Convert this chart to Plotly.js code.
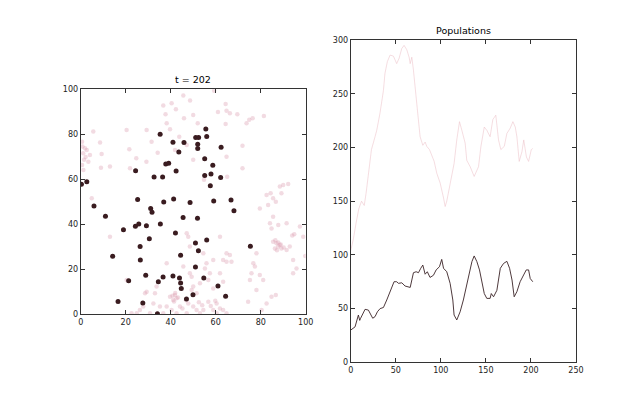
<!DOCTYPE html>
<html><head><meta charset="utf-8">
<script src="https://cdn.plot.ly/plotly-3.0.1.min.js"></script>
<style>html,body{margin:0;padding:0;background:#fff}#chart{width:640px;height:403px}</style>
</head><body><div id="chart"></div>
<script>
// Left panel: agent positions at t = 202
const predX = [35.3,55.6,41,45.9,51.1,52.4,56,52,52,62.4,43.6,55.1,37.8,39.1,24.4,42.4,58.7,32.6,36.4,55.1,57.9,62.2,57.6,0.3,2.7,5.9,25.3,36.9,41.3,48.6,59.1,66.8,68.1,11,31.1,31.7,45.5,51.9,19,24.3,25.8,29.2,35.4,42.1,51,56,30.5,26.4,52.3,14.2,44.4,26.5,75.4,51,54.7,28.9,36.6,41,43.9,44.4,44.7,21.3,34.5,61,49.9,47,64.4,16.6,27.6,34.1];
const predY = [80,82.3,76.4,76.3,78.6,78.6,79,75.5,73.7,74.2,72.1,69.1,66.8,67.1,63.8,63.6,66.2,61,61,61.6,62.3,60.7,57.1,57.7,58.9,48.1,51,49.9,51.2,49.6,50.3,50.7,46,43.5,46.9,45.3,43,42.6,37.5,39,40.1,39.3,40.1,36.1,31.6,32.9,33.5,30,28.2,25.7,26.1,24,30.1,20.9,16,17.2,16.5,16.9,16,13.8,11.4,14.8,14.4,12.5,8.6,6.7,7.9,5.6,4.9,0.1];

const preyX = [45.6,48.6,40.4,36.7,42.3,37.7,50,59.3,64.4,64.8,61,66.3,69.6,73.7,74.9,76.4,81.4,64.4,52,20.4,5.6,29.3,39.7,43.8,38.2,45.9,71.9,31.5,41.9,47.1,21.6,34.2,64.8,24.7,50,29.2,8.6,9.3,9,13,21.9,71.9,65.1,54.8,
0.6,1.9,2.7,1.5,0.6,3.4,4.1,1.2,4.9,
82.6,84.4,85.5,83.3,86.7,88.5,90,92.2,89.2,79.6,85.5,84.1,84.8,87.8,91.5,97.4,94,94.9,92.9,91.5,85.5,87,87.8,88.5,86.3,89.2,87.8,98.9,94.4,95.9,94.4,99.8,78.1,76.7,77.4,75.9,75.2,79.6,81.1,78.1,74.4,80.4,82.6,84.8,86.7,
61.9,64.8,66.3,63.3,64.8,67,61.9,58.9,54.5,55.9,55.2,57.4,56.7,53,50,51.5,49.3,63.3,58.9,
39.7,41.1,41.9,42.6,38.2,40.4,44.1,47.8,50,51.5,53,54.5,56.7,58.9,60.4,61.9,63.3,64.8,60.4,47.1,42.6,35.2,32.3,29.3,28.6,26.3,27.8,24.9,30.8,36.7,22.6,48.5,45.6,49.3,47.1,47.8,48.5,38.2,33.7,33,20.4,13,
40.8,42,43.2,41.5,86.5,88.9,90.2,87.2,1.1,2.2,0.8,52.5,54,45.2,46.8,57.8,59.8];
const preyY = [97.2,95,93.8,92.8,91.1,88.9,88.6,99.4,93.5,90.4,89.9,89.3,88.9,84.9,86.4,87.1,88.1,84.6,84.9,81.9,81.2,81.9,82.2,78.9,84.9,87.1,74.9,76.7,73,75.2,73.3,71.8,70,69.3,68.6,67.8,76.3,71.2,65.1,65.6,64.9,64.9,61.1,59.7,
76.7,73.8,73,68.6,66.3,67.8,70.8,64.1,51.5,
53,53.7,51.5,48.5,50,56.7,57.4,57.9,53.7,47,43.3,40.4,38.1,39.6,40.4,38.9,34.9,35.5,30,28.5,32.2,31.5,30,30.7,29.2,29.2,31.8,34.4,24,20.3,18.1,25.8,27,22.6,21.1,18.1,15.1,17.4,15.1,10.7,5.5,1.8,4.7,7.7,8.5,
34.4,27,26.3,24,23.3,23.3,18.1,24,27,22.6,20.3,18.1,15.1,13.7,12.2,9.2,10.7,14.4,11.4,
7.7,6.2,8.5,7,3.3,1.8,3.3,4.7,3.3,1.8,0.3,1.8,5.5,1.8,0.3,2.5,1.8,0.3,4.7,0.3,0.3,3.3,4.7,9.9,9.2,1.8,3.3,0.3,0.3,0.3,0.3,18.1,21.1,16.6,35.9,34.4,30,22.6,12.2,9.2,15.1,34.4,
8.1,9.3,7.4,5.6,32.8,30.9,29.6,28.4,71.5,69.9,74.5,5.2,3.9,2.4,6.1,3.6,5.9];

// Right panel: population over time
const preyT = [0,3,6,9,12,15,17,20.7,23,27,28.9,32.5,36.3,38,40.7,43.7,47.4,51,53.7,56.6,59.2,62.2,64.8,66,67.8,69.6,71.5,74,77,80,82.6,84.4,87.4,90,92.6,95.5,99.2,103,104.8,106.6,110.3,114.7,117.7,120.7,123.3,127,128.8,132.6,137,141.8,144.5,148.2,151,154.7,157.7,161,164,166.6,170.4,173.3,177,180,182.6,184.4,187,190,192,195,197.4,200.4,202];
const preyPop = [104,115,130,143,150,146,157,185,198,210,216,232,253,269,280,286,285,278,283,292,295,291,284,278,284,272,253,235,210,202,205,201,198,193,187,176,167,153,145,150,167,185,207,224,216,204,188,182,173,182,201,219,216,210,226,230,207,198,201,213,218,224,219,210,187,196,207,191,187,198,199];
const predT = [0,2,4.8,8.5,10,11,13.3,15.9,19.6,22,24.4,27,29.6,32.6,36.3,40,43.7,48.1,51,53,56.7,60.3,66,69.6,72.6,75.2,77.7,80,82.6,85,88,91.8,94.8,98.5,101,103,106.6,110.3,113.3,114.7,117.7,121.4,125,128.8,132.6,134.5,137,140,142.9,145.6,148.2,151,154.7,156,158.5,162.2,166,169.6,173.3,176.3,179,181.4,184.4,188,191.8,194.8,197.4,199.2,202];
const predPop = [30,31,33,44,39,41,45.6,49.3,48.6,44,41,42.5,47,50,51,58,65.7,75,75,73.5,74,71,69.7,83.4,84.3,83.4,87.5,90.5,82,84.3,79,81,86,89,95.8,87.5,84.3,73.5,58,44,39.4,47,58,72,86,93.7,99,93.7,86,75,64,59.5,59.5,64,61,67,87.5,92,94,87.5,76.6,61,65.7,75,81,86,86,78,75];

const axBase = {
  showgrid:false, zeroline:false, showline:true, linecolor:'#333', linewidth:1,
  mirror:'ticks', ticks:'inside', ticklen:4, tickcolor:'#333', tickwidth:1,
  tickfont:{family:'DejaVu Sans', size:8, color:'#222'}, fixedrange:true
};

const traces = [
  {x:preyX, y:preyY, type:'scatter', mode:'markers', xaxis:'x', yaxis:'y',
   marker:{size:4.5, color:'rgba(220,160,180,0.38)', line:{width:0}}, hoverinfo:'skip'},
  {x:predX, y:predY, type:'scatter', mode:'markers', xaxis:'x', yaxis:'y',
   marker:{size:5, color:'#3a1c20', line:{width:0}}, hoverinfo:'skip'},
  {x:preyT, y:preyPop, type:'scatter', mode:'lines', xaxis:'x2', yaxis:'y2',
   line:{color:'rgba(235,190,198,0.75)', width:0.7}, hoverinfo:'skip'},
  {x:predT, y:predPop, type:'scatter', mode:'lines', xaxis:'x2', yaxis:'y2',
   line:{color:'#3a2226', width:0.9}, hoverinfo:'skip'}
];

const layout = {
  width:640, height:403, margin:{l:0,r:0,t:0,b:0},
  paper_bgcolor:'#fff', plot_bgcolor:'#fff', showlegend:false,
  xaxis:Object.assign({}, axBase, {domain:[0.1261,0.4777], range:[0,100], tickvals:[0,20,40,60,80,100]}),
  yaxis:Object.assign({}, axBase, {domain:[0.2208,0.7784], range:[0,100], tickvals:[0,20,40,60,80,100]}),
  xaxis2:Object.assign({}, axBase, {domain:[0.548,0.9], range:[0,250], tickvals:[0,50,100,150,200,250], anchor:'y2'}),
  yaxis2:Object.assign({}, axBase, {domain:[0.101,0.9007], range:[0,300], tickvals:[0,50,100,150,200,250,300], anchor:'x2'}),
  annotations:[
    {text:'t = 202', xref:'paper', yref:'paper', x:0.3019, y:0.7784, yshift:2, xanchor:'center', yanchor:'bottom', showarrow:false,
     font:{family:'DejaVu Sans', size:9.5, color:'#000'}},
    {text:'Populations', xref:'paper', yref:'paper', x:0.724, y:0.9007, yshift:2, xanchor:'center', yanchor:'bottom', showarrow:false,
     font:{family:'DejaVu Sans', size:9.5, color:'#000'}}
  ]
};

Plotly.newPlot('chart', traces, layout, {staticPlot:true, displayModeBar:false});
</script></body></html>
